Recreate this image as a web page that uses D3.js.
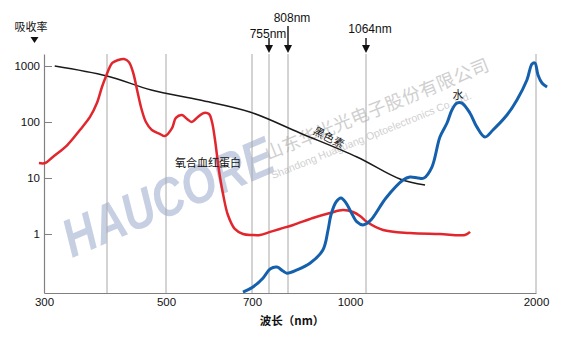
<!DOCTYPE html>
<html><head><meta charset="utf-8">
<script src="https://cdn.jsdelivr.net/npm/d3@7/dist/d3.min.js"></script>
<style>
html,body{margin:0;padding:0;background:#fff;}
svg{display:block;font-family:"Liberation Sans",Arial,"Noto Sans CJK SC",sans-serif;}
</style></head>
<body><svg id="c" width="572" height="349"></svg>
<script>
// ---- data ----
const xTickValues = [300, 500, 700, 1000, 2000];
const yTickValues = [1, 10, 100, 1000];
const gridWavelengths = [400, 500, 700, 755, 808, 1064, 2000];
const markerWavelengths = [755, 808, 1064];
const markerLabels = ["755nm", "808nm", "1064nm"];

const melaninNm  = [317, 400, 475, 579, 695, 845, 1028, 1251, 1389];
const melaninVal = [1000, 663, 373, 247, 151, 63.6, 23.7, 9.6, 7.5];

const hbo2Nm  = [292, 302, 314, 337, 357, 373, 384, 392, 398, 409, 419, 429, 437, 444, 451, 458, 466, 476, 490, 498, 514, 523, 537, 549, 560, 574, 588, 600, 607, 614, 623, 633, 644, 660, 679, 700, 726, 758, 785, 824, 885, 938, 978, 1012, 1040, 1070, 1158, 1306, 1471, 1609, 1637];
const hbo2Val = [18.5, 18.5, 23.7, 38.8, 72, 123, 218, 422, 636, 1132, 1280, 1334, 1179, 781, 373, 178, 100, 72, 61, 56, 78, 118, 133, 113, 100, 123, 145, 139, 100, 47.7, 13.9, 5.0, 2.18, 1.23, 1.0, 0.96, 0.96, 1.09, 1.23, 1.45, 1.93, 2.37, 2.68, 2.47, 2.10, 1.64, 1.18, 1.04, 1.0, 0.96, 1.09];

const waterNm  = [679, 703, 736, 758, 777, 794, 805, 836, 876, 916, 932, 941, 957, 972, 988, 1004, 1028, 1052, 1086, 1174, 1268, 1306, 1350, 1383, 1427, 1471, 1510, 1537, 1565, 1592, 1636, 1675, 1719, 1763, 1840, 1895, 1950, 1978, 1994, 2011, 2033, 2061];
const waterVal = [0.092, 0.113, 0.164, 0.237, 0.257, 0.218, 0.20, 0.228, 0.30, 0.518, 1.18, 2.18, 3.73, 4.4, 3.57, 2.47, 1.64, 1.45, 1.71, 4.4, 9.2, 10.4, 10.0, 10.0, 15.7, 54, 96, 164, 218, 218, 145, 81, 54, 72, 133, 247, 562, 1086, 1132, 691, 497, 422];

// ---- scales ----
const svg = d3.select("#c");
const x = d3.scaleLinear()
  .domain([300, 400, 500, 700, 755, 808, 1000, 1064, 2000])
  .range([44, 107, 166, 252, 269, 288, 350, 366, 536]);
const y = d3.scaleLog().domain([0.0884, 1637]).range([293, 54]);

// ---- watermark ----
const wm = svg.append("g");
wm.append("text").attr("transform", "translate(72,258) rotate(-23) scale(0.82,1)")
  .attr("font-size", 54).attr("font-weight", "bold").attr("font-style", "italic")
  .attr("font-family", "'Liberation Sans',Arial,sans-serif")
  .attr("fill", "#c7cfe2").text("HAUCORE");
wm.append("text").attr("transform", "translate(268,160) rotate(-22)")
  .attr("font-size", 18).attr("font-family", "'Noto Sans CJK SC',sans-serif")
  .attr("fill", "#cfcfcf").attr("letter-spacing", 0.5).text("山东华光光电子股份有限公司");
wm.append("text").attr("transform", "translate(273,179) rotate(-22)")
  .attr("font-size", 10.5).attr("font-family", "'Liberation Sans',Arial,sans-serif")
  .attr("fill", "#cfcfcf").text("Shandong Huaguang Optoelectronics Co. Ltd.");

// ---- grid ----
svg.append("g").selectAll("line").data(gridWavelengths).join("line")
  .attr("x1", d => x(d)).attr("x2", d => x(d))
  .attr("y1", y.range()[1]).attr("y2", y.range()[0])
  .attr("stroke", "#a8a8a8").attr("stroke-width", 1);

// ---- axes ----
const yAxis = d3.axisLeft(y).tickValues(yTickValues).tickFormat(d3.format("d"))
  .tickSizeInner(-8).tickSizeOuter(0).tickPadding(4);
const gy = svg.append("g").attr("transform", `translate(${x(300)},0)`).call(yAxis);
gy.select(".domain").attr("stroke", "#808080").attr("stroke-width", 1.2);
gy.selectAll(".tick line").attr("stroke", "#808080");
gy.selectAll("text").attr("font-size", 11.5).attr("fill", "#111");

const xAxis = d3.axisBottom(x).tickValues(xTickValues).tickFormat(d3.format("d"))
  .tickSize(0).tickPadding(5);
const gx = svg.append("g").attr("transform", `translate(0,${y.range()[0]})`).call(xAxis);
gx.select(".domain").attr("stroke", "#808080").attr("stroke-width", 1.2);
gx.selectAll("text").attr("font-size", 11.5).attr("fill", "#111");

// ---- curves ----
const line = d3.line().x(d => x(d[0])).y(d => y(d[1])).curve(d3.curveCatmullRom.alpha(0.5));
const zip = (a, b) => a.map((v, i) => [v, b[i]]);

svg.append("path").datum(zip(melaninNm, melaninVal)).attr("d", line)
  .attr("fill", "none").attr("stroke", "#1a1a1a").attr("stroke-width", 1.5);
svg.append("path").datum(zip(hbo2Nm, hbo2Val)).attr("d", line)
  .attr("fill", "none").attr("stroke", "#e1262d").attr("stroke-width", 2.5);
svg.append("path").datum(zip(waterNm, waterVal)).attr("d", line)
  .attr("fill", "none").attr("stroke", "#1560ad").attr("stroke-width", 3);

// ---- curve labels ----
svg.append("text").attr("x", 208).attr("y", 167).attr("text-anchor", "middle")
  .attr("font-size", 11).attr("fill", "#111").attr("font-family", "'Noto Sans CJK SC',sans-serif").text("氧合血红蛋白");
svg.append("text").attr("transform", "translate(327,141) rotate(27)").attr("text-anchor", "middle")
  .attr("font-size", 11).attr("fill", "#111").attr("font-family", "'Noto Sans CJK SC',sans-serif").text("黑色素");
svg.append("text").attr("x", 458).attr("y", 99).attr("text-anchor", "middle")
  .attr("font-size", 11).attr("fill", "#111").attr("font-family", "'Noto Sans CJK SC',sans-serif").text("水");

// ---- y title ----
svg.append("text").attr("x", 31).attr("y", 31).attr("text-anchor", "middle")
  .attr("font-size", 11).attr("fill", "#111").attr("font-family", "'Noto Sans CJK SC',sans-serif").text("吸收率");
svg.append("path").attr("d", "M30.5,37 L38.5,37 L34.5,43 Z").attr("fill", "#111");

// ---- x title ----
svg.append("text").attr("x", 292).attr("y", 325).attr("text-anchor", "middle")
  .attr("font-size", 11.5).attr("font-weight", "bold").attr("fill", "#111")
  .attr("font-family", "'Noto Sans CJK SC',sans-serif").text("波长（nm）");

// ---- wavelength markers ----
const labelPos = [[268, 38, 38], [292, 22, 26], [370, 33, 38]]; // label x, baseline, stem start
const mk = svg.append("g");
markerWavelengths.forEach((w, i) => {
  const cx = x(w);
  const [lx, ly, sy] = labelPos[i];
  mk.append("text").attr("x", lx).attr("y", ly).attr("text-anchor", "middle")
    .attr("font-size", 12).attr("fill", "#111").text(markerLabels[i]);
  mk.append("line").attr("x1", cx).attr("x2", cx).attr("y1", sy).attr("y2", 46)
    .attr("stroke", "#111").attr("stroke-width", 1.4);
  mk.append("path").attr("d", `M${cx - 4},45 L${cx + 4},45 L${cx},53 Z`).attr("fill", "#111");
});
</script></body></html>
